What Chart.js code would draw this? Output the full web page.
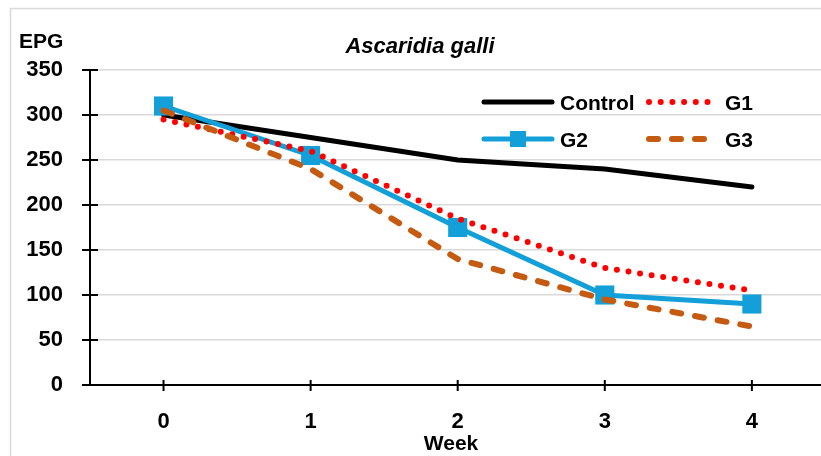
<!DOCTYPE html>
<html>
<head>
<meta charset="utf-8">
<script src="https://cdn.jsdelivr.net/npm/chart.js@4/dist/chart.umd.min.js"></script>
<style>
  html, body { margin: 0; padding: 0; background: #fff; overflow: hidden; }
  canvas { display: block; }
</style>
</head>
<body>
<canvas id="graficoEPG" width="821" height="456"></canvas>
<script>
// dados
const weeks = [0, 1, 2, 3, 4];
const controlEPG = [300, 275, 250, 240, 220];
const g1EPG = [295, 260, 185, 130, 105];
const g2EPG = [310, 255, 175, 100, 90];
const g3EPG = [305, 240, 140, 95, 65];
const yTicks = [0, 50, 100, 150, 200, 250, 300, 350];

const FONT = "'Liberation Sans', Arial, sans-serif";
const toPts = arr => arr.map((v, i) => ({ x: weeks[i], y: v }));

// eixos desenhados a mao (ticks cruzando a linha, como no Excel)
const eixos = {
  id: 'eixos',
  beforeDatasetsDraw(chart) {
    const c = chart.ctx, a = chart.chartArea;
    const xs = chart.scales.x, ys = chart.scales.y;
    c.save();
    c.strokeStyle = '#000';
    c.lineWidth = 2.5;
    c.beginPath();
    c.moveTo(a.left, a.top); c.lineTo(a.left, a.bottom);
    c.moveTo(a.left - 8, a.bottom); c.lineTo(a.right, a.bottom);
    yTicks.forEach(t => {
      const y = ys.getPixelForValue(t);
      c.moveTo(a.left - 8, y); c.lineTo(a.left + 8, y);
    });
    c.lineWidth = 2;
    weeks.forEach(w => {
      const x = xs.getPixelForValue(w);
      c.moveTo(x, a.bottom - 5); c.lineTo(x, a.bottom + 6);
    });
    c.stroke();
    c.restore();
  }
};

// textos, legenda e moldura
const textos = {
  id: 'textos',
  afterDraw(chart) {
    const c = chart.ctx;
    c.save();
    c.strokeStyle = '#d9d9d9';
    c.lineWidth = 1.5;
    c.strokeRect(10.5, 8.5, 830, 470);

    c.fillStyle = '#000';
    c.textBaseline = 'alphabetic';
    c.font = 'bold 21px ' + FONT;
    c.textAlign = 'left';
    c.fillText('EPG', 19, 48);
    c.textAlign = 'center';
    c.fillText('Week', 451, 450);
    c.font = 'italic bold 22px ' + FONT;
    c.fillText('Ascaridia galli', 420, 53);

    // legenda
    const ds = chart.data.datasets;
    const itens = [
      { d: ds[0], x: 482, y: 102 },
      { d: ds[1], x: 647, y: 102 },
      { d: ds[2], x: 482, y: 139 },
      { d: ds[3], x: 647, y: 139 }
    ];
    itens.forEach(it => {
      const d = it.d;
      c.save();
      c.strokeStyle = d.borderColor;
      c.lineWidth = d.borderWidth;
      c.lineCap = d.borderCapStyle || 'round';
      c.setLineDash(d.borderDash || []);
      c.beginPath();
      c.moveTo(it.x + 2, it.y); c.lineTo(it.x + 70, it.y);
      c.stroke();
      if (d.pointRadius > 0) {
        c.setLineDash([]);
        c.fillStyle = d.pointBackgroundColor;
        c.fillRect(it.x + 28, it.y - 8, 16, 16);
      }
      c.restore();
      c.font = 'bold 21px ' + FONT;
      c.textAlign = 'left';
      c.fillStyle = '#000';
      c.fillText(d.label, it.x + 78, it.y + 8);
    });
    c.restore();
  }
};

new Chart(document.getElementById('graficoEPG').getContext('2d'), {
  type: 'line',
  data: {
    datasets: [{
      label: 'Control',
      data: toPts(controlEPG),
      borderColor: '#000000',
      borderWidth: 5,
      borderCapStyle: 'round',
      pointRadius: 0,
      order: 4
    }, {
      label: 'G1',
      data: toPts(g1EPG),
      borderColor: '#ff0000',
      borderWidth: 6,
      borderCapStyle: 'round',
      borderDash: [0, 11.7],
      pointRadius: 0,
      order: 2
    }, {
      label: 'G2',
      data: toPts(g2EPG),
      borderColor: '#139fd7',
      borderWidth: 5,
      borderCapStyle: 'round',
      pointStyle: 'rect',
      pointRadius: 13.5,
      pointBorderWidth: 0,
      pointBackgroundColor: '#139fd7',
      pointBorderColor: '#139fd7',
      order: 3
    }, {
      label: 'G3',
      data: toPts(g3EPG),
      borderColor: '#c55a11',
      borderWidth: 6,
      borderCapStyle: 'round',
      borderDash: [9, 14],
      pointRadius: 0,
      order: 1
    }]
  },
  options: {
    responsive: false,
    animation: false,
    layout: { autoPadding: false, padding: { top: 70, left: 0, right: 0, bottom: 0 } },
    plugins: { legend: { display: false }, tooltip: { enabled: false } },
    elements: { line: { tension: 0 }, point: { hoverRadius: 0 } },
    scales: {
      x: {
        type: 'linear',
        min: -0.5,
        max: 4.47,
        afterBuildTicks: scale => { scale.ticks = weeks.map(v => ({ value: v })); },
        afterFit: scale => { scale.height = 71; scale.paddingLeft = 0; scale.paddingRight = 0; },
        grid: { display: false },
        border: { display: false },
        ticks: {
          padding: 16,
          color: '#000',
          font: { family: FONT, size: 22, weight: 'bold' }
        }
      },
      y: {
        min: 0,
        max: 350,
        afterBuildTicks: scale => { scale.ticks = yTicks.map(v => ({ value: v })); },
        afterFit: scale => { scale.width = 90; },
        grid: { color: '#d9d9d9', lineWidth: 1.5, drawTicks: false },
        border: { display: false },
        ticks: {
          padding: 27,
          color: '#000',
          font: { family: FONT, size: 22, weight: 'bold' }
        }
      }
    }
  },
  plugins: [eixos, textos]
});
</script>
</body>
</html>
